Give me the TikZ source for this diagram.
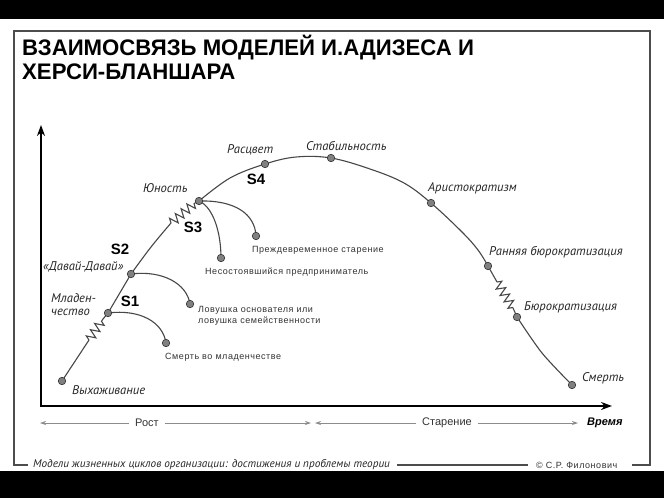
\documentclass[tikz,border=0pt]{standalone}
\usepackage{fontspec}
\usepackage{graphicx}
\setmainfont{Liberation Sans}
\newfontfamily\labfont{PT Sans}
\newfontfamily\brfont[LetterSpace=6]{Liberation Sans}
\usetikzlibrary{decorations.pathmorphing,arrows.meta}
\tikzset{
  pt/.style={circle, draw=black!80, fill=black!50, line width=0.6pt, inner sep=0pt, minimum size=7.5pt},
  curve/.style={draw=black!72, line width=1.1pt},
  zz/.style={curve, decorate, decoration={zigzag, segment length=7.5pt, amplitude=4.5pt}},
  lab/.style={font=\labfont\itshape\fontsize{12.6}{13}\selectfont, inner sep=0pt, anchor=west, text=black!85},
  br/.style={font=\brfont\fontsize{9}{11}\selectfont, inner sep=0pt, anchor=west, text=black!80, align=left},
  sl/.style={font=\bfseries\fontsize{15}{16}\selectfont, inner sep=0pt},
  ttl/.style={font=\bfseries\fontsize{22.5}{24}\selectfont, inner sep=0pt, anchor=base west},
  axis/.style={draw=black, line width=1.8pt},
  garrow/.style={draw=black!45, line width=0.8pt, -{Stealth[length=6pt,width=4pt]}},
  frame/.style={draw=black!70, line width=1.1pt},
  bot/.style={font=\fontsize{11}{12}\selectfont, inner sep=0pt, text=black!80},
  foot/.style={font=\labfont\itshape\fontsize{11.2}{12}\selectfont, inner sep=0pt, anchor=west, text=black!85},
}
\begin{document}
\begin{tikzpicture}[x=1pt,y=-1pt]
\useasboundingbox (0,0) rectangle (664,498);
\fill[white] (0,0) rectangle (664,498);
\fill[black] (0,0) rectangle (664,19);
\fill[black] (0,471) rectangle (664,498);

% title
\node[ttl] (t1) at (22,55) {\scalebox{0.985}[1]{ВЗАИМОСВЯЗЬ МОДЕЛЕЙ И.АДИЗЕСА И}};
\node[ttl] (t2) at (22,79) {\scalebox{0.985}[1]{ХЕРСИ-БЛАНШАРА}};

% footer
\node[foot] (f1) at (33,465) {Модели жизненных циклов организации: достижения и проблемы теории};
\node[br, anchor=west] (f2) at (536,465) {© С.Р. Филонович};
\coordinate (fa) at (28,465);
\coordinate (fb) at (632,465);
\draw[frame] (fa) -- (14,465) -- (14,31) -- (650,31) -- (650,465) -- (fb);
\draw[frame] ([xshift=7pt]f1.east) -- ([xshift=-8pt]f2.west);

% axes
\coordinate (org) at (41,406);
\coordinate (ytip) at (41,125);
\coordinate (xtip) at (612,406);
\draw[axis, {Stealth[length=11pt,width=8pt]}-{Stealth[length=11pt,width=8pt]}] (ytip) -- (org) -- (xtip);

% bottom row
\node[bot] (rost) at (147,423) {Рост};
\node[bot] (star) at (447,423) {Старение};
\node[bot, anchor=west, font=\bfseries\itshape\fontsize{11}{12}\selectfont, text=black] (vrem) at (587,423) {Время};
\coordinate (ra) at (40,423);
\coordinate (rb) at (311,423);
\coordinate (sa) at (315,423);
\coordinate (sb) at (578,423);
\draw[garrow] ([xshift=-6pt]rost.west) -- (ra);
\draw[garrow] ([xshift=6pt]rost.east) -- (rb);
\draw[garrow] ([xshift=-6pt]star.west) -- (sa);
\draw[garrow] ([xshift=6pt]star.east) -- (sb);

% stage coordinates
\coordinate (cvyh) at (62,381);
\coordinate (cmlad) at (108,313);
\coordinate (cdav) at (131,274);
\coordinate (cyun) at (199,201);
\coordinate (crasc) at (265,164);
\coordinate (cstab) at (331,158);
\coordinate (carist) at (431,203);
\coordinate (crann) at (488,266);
\coordinate (cbur) at (517,317);
\coordinate (csm) at (572,385);
\coordinate (cb1) at (166,343);
\coordinate (cb2) at (190,304);
\coordinate (cb3) at (221,258);
\coordinate (cb4) at (256,236);
\coordinate (z1a) at (89,340);
\coordinate (z1b) at (103,319);
\coordinate (z3a) at (171,223);
\coordinate (z3b) at (195,203);
\coordinate (z5a) at (497,282);
\coordinate (z5b) at (513,308);

% main curve
\draw[curve] (cvyh) -- (z1a);
\draw[zz] (z1a) -- (z1b);
\draw[curve] (z1b) -- (cmlad) -- (cdav);
\draw[curve] plot[smooth, tension=0.6] coordinates {(cdav) (151,247) (z3a)};
\draw[zz] (z3a) -- (z3b);
\draw[curve] (z3b) -- (cyun);
\draw[curve] plot[smooth, tension=0.6] coordinates {(cyun) (230,178) (crasc) (296,157) (cstab) (370,169) (404,183) (carist) (462,232) (478,250) (crann)};
\draw[curve] (crann) -- (z5a);
\draw[zz] (z5a) -- (z5b);
\draw[curve] (z5b) -- (cbur);
\draw[curve] plot[smooth, tension=0.5] coordinates {(cbur) (542,353) (csm)};

% branches
\draw[curve] (cmlad) .. controls (140,309) and (163,322) .. (cb1);
\draw[curve] (cdav) .. controls (163,270) and (187,284) .. (cb2);
\draw[curve] (cyun) .. controls (213,207) and (221,232) .. (cb3);
\draw[curve] (cyun) .. controls (235,200) and (255,214) .. (cb4);

% points
\foreach \c/\n in {cvyh/vyh, cmlad/mlad, cdav/dav, cyun/yun, crasc/rasc, cstab/stab, carist/arist, crann/rann, cbur/bur, csm/sm, cb1/b1, cb2/b2, cb3/b3, cb4/b4}
  \node[pt] (\n) at (\c) {};

% stage labels
\node[lab] (lvyh) at (72,390) {Выхаживание};
\node[lab, align=left] (lmlad) at (51,305) {Младен-\\чество};
\node[lab] (ldav) at (43,267) {«Давай-Давай»};
\node[lab] (lyun) at (143,188) {Юность};
\node[lab] (lrasc) at (227,150) {Расцвет};
\node[lab] (lstab) at (306,146) {Стабильность};
\node[lab] (larist) at (428,188) {Аристократизм};
\node[lab] (lrann) at (489,252) {Ранняя бюрократизация};
\node[lab] (lbur) at (524,307) {Бюрократизация};
\node[lab] (lsm) at (582,378) {Смерть};

% S labels
\node[sl] (s1) at (130,301) {S1};
\node[sl] (s2) at (120,249) {S2};
\node[sl] (s3) at (193,227) {S3};
\node[sl] (s4) at (256,179) {S4};

% branch labels
\node[br] (lb1) at (165,357) {Смерть во младенчестве};
\node[br] (lb2) at (198,315.5) {Ловушка основателя или\\ловушка семейственности};
\node[br] (lb3) at (205,272) {Несостоявшийся предприниматель};
\node[br] (lb4) at (252,250) {Преждевременное старение};
\end{tikzpicture}
\end{document}
